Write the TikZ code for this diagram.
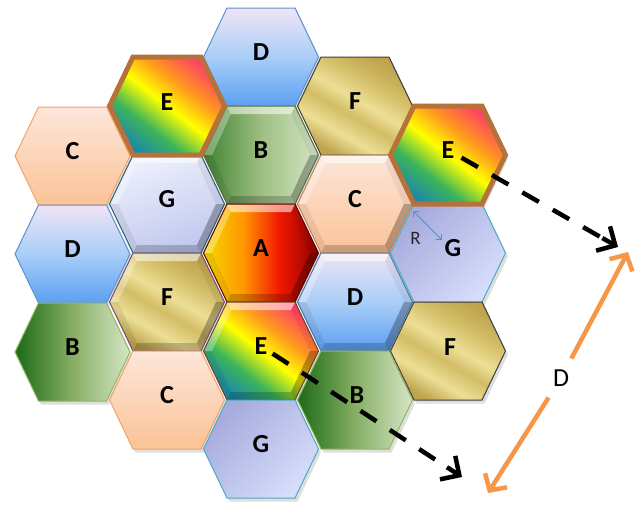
\documentclass[tikz,border=0pt]{standalone}
\usepackage{fontspec}
\setmainfont{Carlito}
\usetikzlibrary{arrows.meta,calc}

% cell colours
\definecolor{cTop}{HTML}{FDE6DA}
\definecolor{cBot}{HTML}{FBC397}
\definecolor{cLine}{HTML}{F2A468}
\definecolor{dTop}{HTML}{F0E4F6}
\definecolor{dMid}{HTML}{A9CEF7}
\definecolor{dBot}{HTML}{5C9FF2}
\definecolor{dLine}{HTML}{5B93CF}
\definecolor{bDark}{HTML}{1C6A18}
\definecolor{bMid}{HTML}{86AE64}
\definecolor{bLight}{HTML}{D5E6C6}
\definecolor{bLine}{HTML}{93B860}
\definecolor{gDark}{HTML}{A6AADC}
\definecolor{gLight}{HTML}{D6DEFB}
\definecolor{gLine}{HTML}{4BACC6}
\definecolor{fDark}{HTML}{BEA44E}
\definecolor{fMid}{HTML}{D3BD66}
\definecolor{fLight}{HTML}{ECDF95}
\definecolor{fLine}{HTML}{3C3C3C}
\definecolor{aYellow}{HTML}{F8D200}
\definecolor{aOrange}{HTML}{FF9800}
\definecolor{aRed}{HTML}{F21800}
\definecolor{aDark}{HTML}{8C0000}
\definecolor{eTeal}{HTML}{1C8AA8}
\definecolor{eGreen}{HTML}{3DB45A}
\definecolor{eYellow}{HTML}{FFFF00}
\definecolor{eOrange}{HTML}{FF981E}
\definecolor{ePink}{HTML}{FF4462}
\definecolor{eLine}{HTML}{B7723A}
\definecolor{orArrow}{HTML}{F79646}
\definecolor{rArrow}{HTML}{5B8CC5}

\pgfdeclarehorizontalshading{rainbowE}{100bp}{color(0bp)=(eTeal); color(25bp)=(eTeal); color(37bp)=(eGreen); color(50bp)=(eYellow); color(62bp)=(eOrange); color(75bp)=(ePink); color(100bp)=(ePink)}
\pgfdeclarehorizontalshading{flameA}{100bp}{color(0bp)=(aYellow); color(27bp)=(aYellow); color(42bp)=(aOrange); color(58bp)=(aRed); color(75bp)=(aDark); color(100bp)=(aDark)}
\pgfdeclarehorizontalshading{goldF}{100bp}{color(0bp)=(fDark); color(25bp)=(fDark); color(35bp)=(fLight); color(45bp)=(fMid); color(53bp)=(fLight); color(64bp)=(fMid); color(75bp)=(fDark); color(100bp)=(fDark)}

\tikzset{
  celltext/.style={font=\bfseries\fontsize{26}{26}\selectfont, inner sep=0pt, text=black},
  fillC/.style={top color=cTop, bottom color=cBot},
  fillD/.style={top color=dTop, bottom color=dBot, middle color=dMid},
  fillB/.style={left color=bDark, right color=bLight, middle color=bMid},
  fillBb/.style={left color=bDark!65!bMid, right color=bLight, middle color=bMid!70!bLight},
  fillG/.style={top color=gDark, bottom color=gLight, shading angle=45},
  fillGb/.style={top color=gLight!45!white, bottom color=gLight!55!gDark, shading angle=20},
  fillF/.style={shade, shading=goldF, shading angle=60},
  fillA/.style={shade, shading=flameA},
  fillE/.style={shade, shading=rainbowE, shading angle=52},
  blackdash/.style={line width=4.5pt, dash pattern=on 19pt off 16pt},
  blackhead/.style={line width=4.5pt, line join=miter, -{Straight Barb[length=14pt,width=28pt]}},
  orline/.style={orArrow, line width=4.5pt, -{Straight Barb[length=12pt,width=26pt]}},
  rline/.style={rArrow, line width=0.9pt,
    {Straight Barb[length=4pt,width=8pt]}-{Straight Barb[length=4pt,width=8pt]}},
}

% soft shadow below a cell
\newcommand\cellshadow[1]{%
  \fill[black,opacity=.13,shift={#1},xshift=2.5pt,yshift=-3.5pt]
    (-57.5,0) -- (-34,-49) -- (34,-49) -- (57.5,0) -- (34,49) -- (-34,49) -- cycle;}

% flat cell: position, fill and border, node name, letter, letter position
\newcommand\cellhex[5]{%
  \begin{scope}[shift={#1}]
    \path[#2] (-57.5,0) -- (-34,-49) -- (34,-49) -- (57.5,0) -- (34,49) -- (-34,49) -- cycle;
    \node[celltext] (#3) at #5 {#4};
  \end{scope}}

% raised cell: position, fill, border colour, node name, letter, letter position
\newcommand\bevelhex[6]{%
  \begin{scope}[shift={#1}]
    \path[#2] (-57.5,0) -- (-34,-49) -- (34,-49) -- (57.5,0) -- (34,49) -- (-34,49) -- cycle;
    \fill[white,opacity=.55] (-34,-49) -- (34,-49) -- (30,-41) -- (-30,-41) -- cycle;
    \fill[white,opacity=.30] (-57.5,0) -- (-34,-49) -- (-30,-41) -- (-49,0) -- cycle;
    \fill[black,opacity=.06] (34,-49) -- (57.5,0) -- (49,0) -- (30,-41) -- cycle;
    \fill[black,opacity=.28] (57.5,0) -- (34,49) -- (30,41) -- (49,0) -- cycle;
    \fill[black,opacity=.20] (34,49) -- (-34,49) -- (-30,41) -- (30,41) -- cycle;
    \fill[black,opacity=.07] (-34,49) -- (-57.5,0) -- (-49,0) -- (-30,41) -- cycle;
    \draw[#3, line width=1pt] (-57.5,0) -- (-34,-49) -- (34,-49) -- (57.5,0) -- (34,49) -- (-34,49) -- cycle;
    \node[celltext] (#4) at #6 {#5};
  \end{scope}}

\begin{document}
\begin{tikzpicture}[x=1pt, y=-1pt]
  \useasboundingbox[fill=white] (0,0) rectangle (637,504);

  % shadows
  \foreach \p in {(72.5,156),(72.5,254),(72.5,352),
                  (167,106),(167,204),(167,302),(167,400),
                  (261,57),(261,155),(261,253),(261,351),(261,449),
                  (355,106),(355,204),(355,302),(355,400),
                  (448,155),(448,253),(448,351)}
    {\cellshadow{\p}}

  % left column
  \cellhex{(72.5,156)}{fillC, draw=cLine, line width=1pt}{c1}{C}{(0,-5)}
  \cellhex{(72.5,254)}{fillD, draw=dLine, line width=1pt}{d1}{D}{(0,-5)}
  \cellhex{(72.5,352)}{fillB, draw=bLine, line width=1pt}{b1}{B}{(0,-5)}
  % second column
  \bevelhex{(167,204)}{fillGb}{black!45!gLine}{g2}{G}{(0,-5)}
  \bevelhex{(167,302)}{fillF}{violet!50!black!70}{f2}{F}{(0,-5)}
  \cellhex{(167,400)}{fillC, draw=cLine, line width=1pt}{c2}{C}{(0,-5)}
  % middle column
  \cellhex{(261,57)}{fillD, draw=dLine, line width=1pt}{d3}{D}{(0,-5)}
  \bevelhex{(261,155)}{fillBb}{black!40!bLine}{b3}{B}{(0,-5)}
  \bevelhex{(261,253)}{fillA}{aDark!70!black}{a3}{A}{(0,-5)}
  \bevelhex{(261,351)}{fillE}{eLine!60!black}{e3}{E}{(0,-5)}
  \cellhex{(261,449)}{fillG, draw=gLine, line width=1pt}{g3}{G}{(0,-5)}
  % fourth column
  \cellhex{(355,106)}{fillF, draw=fLine, line width=1pt}{f4}{F}{(0,-5)}
  \bevelhex{(355,204)}{fillC}{cLine!80!black}{c4}{C}{(0,-5)}
  \bevelhex{(355,302)}{fillD}{dLine!80!black}{d4}{D}{(0,-5)}
  \cellhex{(355,400)}{fillB, draw=bLine, line width=1pt}{b4}{B}{(2,-5)}
  % right column
  \cellhex{(448,253)}{fillG, draw=gLine, line width=1pt}{g5}{G}{(5,-5)}
  \cellhex{(448,351)}{fillF, draw=fLine, line width=1pt}{f5}{F}{(2,-4)}
  % co-channel cells with heavy outline
  \cellhex{(167,106)}{fillE, draw=eLine, line width=5pt, line join=miter}{e2}{E}{(0,-4)}
  \cellhex{(448,155)}{fillE, draw=eLine, line width=5pt, line join=miter}{e5}{E}{(0,-5)}

  % cell radius
  \coordinate (rA) at (413,211);
  \coordinate (rB) at (442,240);
  \draw[rline] (rA) -- (rB);
  \node[font=\fontsize{19}{19}\selectfont, text=black!85, inner sep=0pt] (rlab) at (415.5,238) {R};

  % reuse distance: dashed shafts, solid heads
  \coordinate (tipA) at (618,247);
  \coordinate (tipB) at (462,477);
  \draw[blackdash, shorten <=8pt, shorten >=18pt] (e5) -- (tipA);
  \draw[blackdash, shorten <=6pt, shorten >=18pt] (e3) -- (tipB);
  \draw[blackhead] ($(tipA)!18pt!(e5)$) -- (tipA);
  \draw[blackhead] ($(tipB)!18pt!(e3)$) -- (tipB);

  \coordinate (tipC) at (628,252);
  \coordinate (tipD) at (488,493);
  \node[font=\fontsize{26}{26}\selectfont, inner sep=11pt] (dlab) at (561,378) {D};
  \draw[orline] (dlab) -- (tipC);
  \draw[orline] (dlab) -- (tipD);
\end{tikzpicture}
\end{document}
